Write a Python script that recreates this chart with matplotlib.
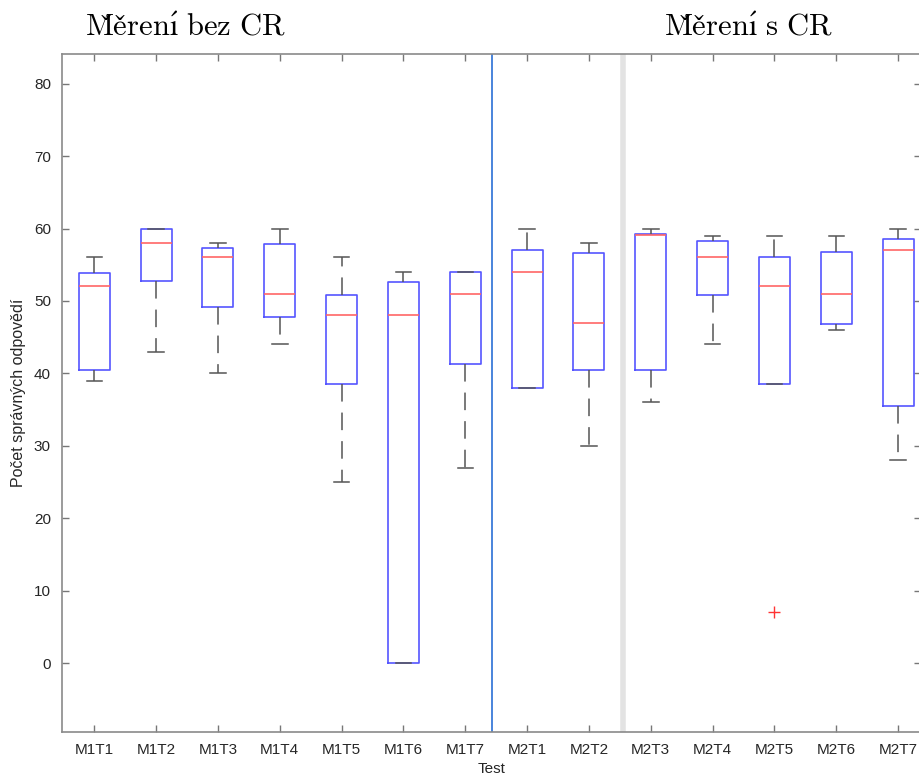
import matplotlib
matplotlib.use("Agg")
import matplotlib.pyplot as plt

# box statistics
tests = ["M1T1", "M1T2", "M1T3", "M1T4", "M1T5", "M1T6", "M1T7",
         "M2T1", "M2T2", "M2T3", "M2T4", "M2T5", "M2T6", "M2T7"]
whisker_low = [39, 43, 40, 44, 25, 0, 27, 38, 30, 36, 44, 38.6, 46, 28]
q1 = [40.5, 52.8, 49.1, 47.8, 38.6, 0, 41.3, 38, 40.5, 40.5, 50.8, 38.6, 46.8, 35.5]
medians = [52, 58, 56, 51, 48, 48, 51, 54, 47, 59.1, 56, 52, 51, 57]
q3 = [53.8, 60, 57.3, 57.8, 50.8, 52.6, 54, 57, 56.6, 59.3, 58.3, 56, 56.8, 58.5]
whisker_high = [56, 60, 58, 60, 56, 54, 54, 60, 58, 60, 59, 59, 59, 60]
outliers = [[], [], [], [], [], [], [], [], [], [], [], [7], [], []]

split_blue = 7.435
split_gray = 9.556

plt.rcParams['font.family'] = ['Liberation Sans', 'DejaVu Sans']
plt.rcParams['mathtext.fontset'] = 'cm'

stats = []
for i, name in enumerate(tests):
    stats.append({
        "label": name,
        "whislo": whisker_low[i],
        "q1": q1[i],
        "med": medians[i],
        "q3": q3[i],
        "whishi": whisker_high[i],
        "fliers": outliers[i],
    })

fig = plt.figure(figsize=(9.2, 7.78), dpi=100)
ax = fig.add_axes([62 / 920, 1 - 731.7 / 778, 859 / 920, (731.7 - 54) / 778])

ax.bxp(stats, positions=range(1, len(tests) + 1), widths=0.5,
       boxprops=dict(color="#5555ff", linewidth=1.2),
       medianprops=dict(color="#ff6666", linewidth=1.2),
       whiskerprops=dict(color="#555555", linewidth=1.1, linestyle=(0, (11.5, 7.2))),
       capprops=dict(color="#555555", linewidth=1.1),
       flierprops=dict(marker="+", markeredgecolor="#ff3333", markersize=9,
                       markeredgewidth=1.0),
       capwidths=0.25)

ax.axvline(split_blue, color="#2a6fd6", linewidth=1.2)
ax.axvline(split_gray, color="#e3e3e3", linewidth=4)

ax.set_xlim(0.478, 14.37)
ax.set_ylim(-9.48, 84.1)
ax.set_yticks(range(0, 81, 10))
ax.set_xticks(range(1, len(tests) + 1))
ax.set_xticklabels(tests)

ax.tick_params(direction="in", top=True, right=True, length=5, width=1,
               color="#777777", labelsize=11, labelcolor="#262626", pad=8)
for s in ax.spines.values():
    s.set_color("#8a8a8a")
    s.set_linewidth(1.2)

ax.set_xlabel("Test", fontsize=11, color="#262626", labelpad=4)
ax.set_ylabel("Počet správných odpovědí", fontsize=11.5, color="#262626", labelpad=6)

fig.text(185 / 920, 1 - 27 / 778, r"$\mathrm{M\check{e}\check{r}en\acute{ı}\ bez\ CR}$",
         fontsize=22, ha="center", va="center")
fig.text(748 / 920, 1 - 27 / 778, r"$\mathrm{M\check{e}\check{r}en\acute{ı}\ s\ CR}$",
         fontsize=22, ha="center", va="center")

fig.savefig("out.png", dpi=100)
